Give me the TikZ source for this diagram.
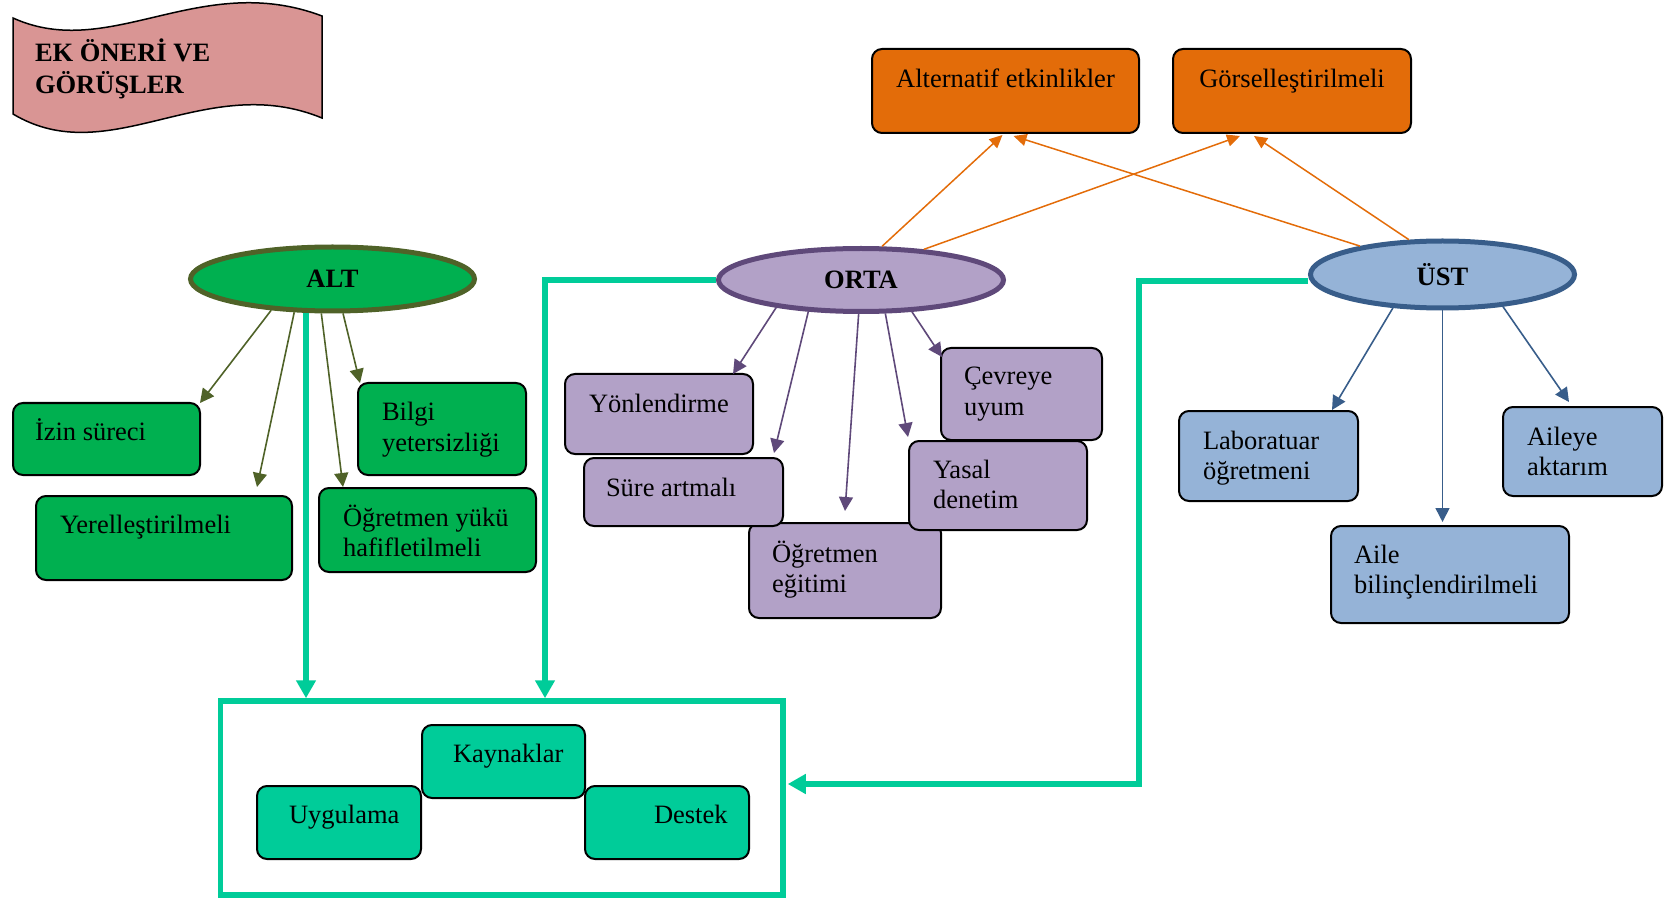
\documentclass[tikz,border=0pt]{standalone}
\usepackage{fontspec}
\setmainfont{Liberation Serif}
\usetikzlibrary{shapes.geometric,arrows.meta,fit,calc}
\definecolor{grn}{HTML}{00B050}
\definecolor{olv}{HTML}{4F6228}
\definecolor{lil}{HTML}{B2A1C7}
\definecolor{plum}{HTML}{5F497A}
\definecolor{sky}{HTML}{95B3D7}
\definecolor{navyb}{HTML}{385D8A}
\definecolor{orng}{HTML}{E36C09}
\definecolor{aqua}{HTML}{00CC99}
\definecolor{rose}{HTML}{D99594}
\newcommand\twoln[2]{\begin{tabular}[t]{@{}l@{}}#1\\#2\end{tabular}}
\begin{document}
\begin{tikzpicture}[x=0.5pt,y=-0.5pt,
  box/.style={draw=black, line width=1pt, rounded corners=5pt, inner sep=0pt, outer sep=0pt},
  gbox/.style={box, fill=grn},
  pbox/.style={box, fill=lil},
  bbox/.style={box, fill=sky},
  obox/.style={box, fill=orng},
  tbox/.style={box, fill=aqua},
  txt/.style={inner sep=0pt, outer sep=0pt, anchor=base west, font=\fontsize{13.25}{15.25}\selectfont},
  ctxt/.style={txt, anchor=base},
  hub/.style={ellipse, line width=2.5pt, inner sep=0pt, font=\fontsize{13.25}{15.25}\selectfont\bfseries},
  arr/.style={line width=0.8pt, -{Triangle[length=7pt,width=7pt]}},
  oarr/.style={arr, draw=olv, fill=olv},
  parr/.style={arr, draw=plum, fill=plum},
  barr/.style={arr, draw=navyb, fill=navyb},
  orarr/.style={line width=0.75pt, draw=orng, -{Triangle[length=6.5pt,width=6pt]}},
  tarr/.style={line width=2.75pt, draw=aqua, -{Triangle[length=9pt,width=9.5pt]}}
]
\useasboundingbox (0,0) rectangle (1664,898);

% title banner
\draw[fill=rose, line width=0.75pt] (13,18) .. controls (110,62) and (200,-30) .. (322,16)
  -- (322,118) .. controls (205,70) and (110,172) .. (13,114) -- cycle;
\node[txt, font=\fontsize{13.25}{15.5}\selectfont\bfseries] (title) at (35,62) {\twoln{EK ÖNERİ VE}{GÖRÜŞLER}};

% top boxes
\node[obox, fit={(872,49) (1139,133)}] (alter) {};
\node[ctxt] (alter-t) at (1005.5,88) {Alternatif etkinlikler};
\node[obox, fit={(1173,49) (1411,133)}] (gorsel) {};
\node[ctxt] (gorsel-t) at (1292,88) {Görselleştirilmeli};

% levels
\node[hub, fill=grn, draw=olv, minimum width=142pt, minimum height=32pt] (alt) at (332.5,279) {ALT};
\node[hub, fill=lil, draw=plum, minimum width=142.5pt, minimum height=31.5pt] (orta) at (861,280) {ORTA};
\node[hub, fill=sky, draw=navyb, minimum width=132pt, minimum height=33.5pt] (ust) at (1442.5,274.5) {ÜST};

% ALT items
\node[gbox, fit={(13,403) (200,475)}] (izin) {};
\node[txt] (izin-t) at (35,440) {İzin süreci};
\node[gbox, fit={(36,496) (292,580)}] (yerel) {};
\node[txt] (yerel-t) at (60,533) {Yerelleştirilmeli};
\node[gbox, fit={(358,383) (526,475)}] (bilgi) {};
\node[txt] (bilgi-t) at (382,421) {\twoln{Bilgi}{yetersizliği}};
\node[gbox, fit={(319,488) (536,572)}] (yuk) {};
\node[txt] (yuk-t) at (343,526) {\twoln{Öğretmen yükü}{hafifletilmeli}};

% ORTA items
\node[pbox, fit={(565,374) (753,454)}] (yon) {};
\node[txt] (yon-t) at (589,412) {Yönlendirme};
\node[pbox, fit={(749,523) (941,618)}] (egitim) {};
\node[txt] (egitim-t) at (772,562) {\twoln{Öğretmen}{eğitimi}};
\node[pbox, fit={(584,458) (783,526)}] (sure) {};
\node[txt] (sure-t) at (606,496) {Süre artmalı};
\node[pbox, fit={(909,441) (1087,530)}] (yasal) {};
\node[txt] (yasal-t) at (933,478) {\twoln{Yasal}{denetim}};
\node[pbox, fit={(941,348) (1102,440)}] (cevre) {};
\node[txt] (cevre-t) at (964,385) {\twoln{Çevreye}{uyum}};

% ÜST items
\node[bbox, fit={(1179,411) (1358,501)}] (lab) {};
\node[txt] (lab-t) at (1203,449) {\twoln{Laboratuar}{öğretmeni}};
\node[bbox, fit={(1503,407) (1662,496)}] (aileye) {};
\node[txt] (aileye-t) at (1527,445) {\twoln{Aileye}{aktarım}};
\node[bbox, fit={(1331,526) (1569,623)}] (aile) {};
\node[txt] (aile-t) at (1354,563) {\twoln{Aile}{bilinçlendirilmeli}};

% common frame
\node[draw=aqua, line width=2.75pt, inner sep=0pt, fit={(220.5,701) (783,895)}] (kap) {};
\node[tbox, fit={(422,725) (585,798)}] (kayn) {};
\node[txt] (kayn-t) at (453,762) {Kaynaklar};
\node[tbox, fit={(257,786) (421,859)}] (uyg) {};
\node[txt] (uyg-t) at (289,823) {Uygulama};
\node[tbox, fit={(585,786) (749,859)}] (destek) {};
\node[txt] (destek-t) at (654,823) {Destek};

% ALT connectors
\draw[oarr] (alt.-153.6) -- (izin.north east);
\draw[oarr] (alt.-139.3) -- ($(yerel.north)+(93,-9)$);
\draw[oarr] (alt.-108.9) -- ($(yuk.north west)+(24,-1)$);
\draw[oarr] (alt.-73.5) -- ($(bilgi.north west)+(2,0)$);

% ORTA connectors
\draw[parr] (orta.-162.1) -- ($(yon.north east)+(-20,0)$);
\draw[parr] (orta.-149.5) -- ($(sure.north east)+(-9,-5)$);
\draw[parr] (orta.-94.8) -- ($(egitim.north)+(0,-12)$);
\draw[parr] (orta.-54.5) -- ($(yasal.north west)+(-1,-4)$);
\draw[parr] (orta.-32.9) -- ($(cevre.north west)+(1,9)$);

% ÜST connectors
\draw[barr] (ust.-146) -- ($(lab.north east)+(-26,-1)$);
\draw[barr] (ust.south) -- ($(ust.south |- aile.north)+(0,-4)$);
\draw[barr] (ust.-28.5) -- ($(aileye.north west)+(66,-5)$);

% links to the top boxes
\draw[orarr] (orta.58.8) -- ($(alter.south)+(-3,2)$);
\draw[orarr] (orta.26.6) -- ($(gorsel.south)+(-52,3)$);
\draw[orarr] (ust.161.7) -- ($(alter.south)+(8,3)$);
\draw[orarr] (ust.134.5) -- ($(gorsel.south)+(-38,3)$);

% links into the common frame
\coordinate (ortadrop) at (545,280);
\coordinate (ustbend) at (1139,784);
\draw[tarr] (alt.-128.6) -- (alt.-128.6 |- kap.north);
\draw[tarr] (orta.west) -| (ortadrop |- kap.north);
\draw[tarr] ($(ust.west)+(0,6.5)$) -| (ustbend) -- ($(ustbend -| kap.east)+(2,0)$);
\end{tikzpicture}
\end{document}
